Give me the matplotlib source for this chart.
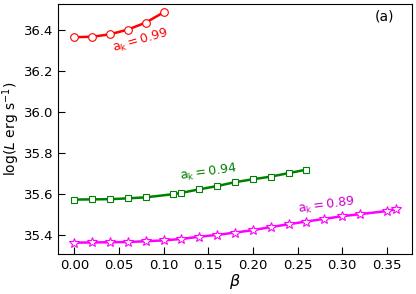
import matplotlib

matplotlib.use("Agg")
import matplotlib.pyplot as plt

# a_k = 0.99
beta_99 = [0.00, 0.02, 0.04, 0.06, 0.08, 0.10]
logL_99 = [36.366, 36.368, 36.380, 36.403, 36.437, 36.487]

# a_k = 0.94
beta_94 = [0.00, 0.02, 0.04, 0.06, 0.08, 0.11, 0.12, 0.14, 0.16, 0.18, 0.20, 0.22, 0.24, 0.26]
logL_94 = [35.574, 35.575, 35.576, 35.580, 35.585, 35.600, 35.607, 35.624, 35.640,
           35.659, 35.673, 35.686, 35.703, 35.720]

# a_k = 0.89
beta_89 = [0.00, 0.02, 0.04, 0.06, 0.08, 0.10, 0.12, 0.14, 0.16, 0.18, 0.20, 0.22,
           0.24, 0.26, 0.28, 0.30, 0.32, 0.35, 0.36]
logL_89 = [35.364, 35.365, 35.366, 35.367, 35.371, 35.375, 35.382, 35.393, 35.402,
           35.413, 35.425, 35.440, 35.454, 35.467, 35.480, 35.493, 35.503, 35.518, 35.527]

plt.rcParams["mathtext.fontset"] = "dejavusans"

fig, ax = plt.subplots(figsize=(4.16, 2.94), dpi=100)

ax.plot(beta_99, logL_99, color="red", lw=1.8, marker="o", ms=5.5,
        mfc="white", mec="red", mew=0.8)
ax.plot(beta_94, logL_94, color="green", lw=1.8, marker="s", ms=5,
        mfc="white", mec="green", mew=0.8)
ax.plot(beta_89, logL_89, color="magenta", lw=1.8, marker="*", ms=7,
        mfc="white", mec="magenta", mew=0.8)

ax.text(0.074, 36.35, r"$\mathrm{a_k = 0.99}$", color="red", fontsize=9,
        rotation=16, ha="center", va="center")
ax.text(0.150, 35.705, r"$\mathrm{a_k = 0.94}$", color="green", fontsize=9,
        rotation=8, ha="center", va="center")
ax.text(0.282, 35.543, r"$\mathrm{a_k = 0.89}$", color="#cc00cc", fontsize=9,
        rotation=8, ha="center", va="center")
ax.text(0.924, 0.948, "(a)", transform=ax.transAxes, fontsize=10,
        ha="center", va="center")

ax.set_xlim(-0.018, 0.378)
ax.set_ylim(35.31, 36.53)
ax.set_xticks([0.00, 0.05, 0.10, 0.15, 0.20, 0.25, 0.30, 0.35])
ax.set_yticks([35.4, 35.6, 35.8, 36.0, 36.2, 36.4])
ax.tick_params(direction="in", labelsize=9.5, length=5)
ax.set_xlabel(r"$\beta$", fontsize=11.5, labelpad=0)
ax.set_ylabel(r"$\log(L\ \mathrm{erg\ s^{-1}})$", fontsize=10, labelpad=1)

fig.subplots_adjust(left=0.14, right=0.99, top=0.988, bottom=0.137)
fig.savefig("out.png", dpi=100)
